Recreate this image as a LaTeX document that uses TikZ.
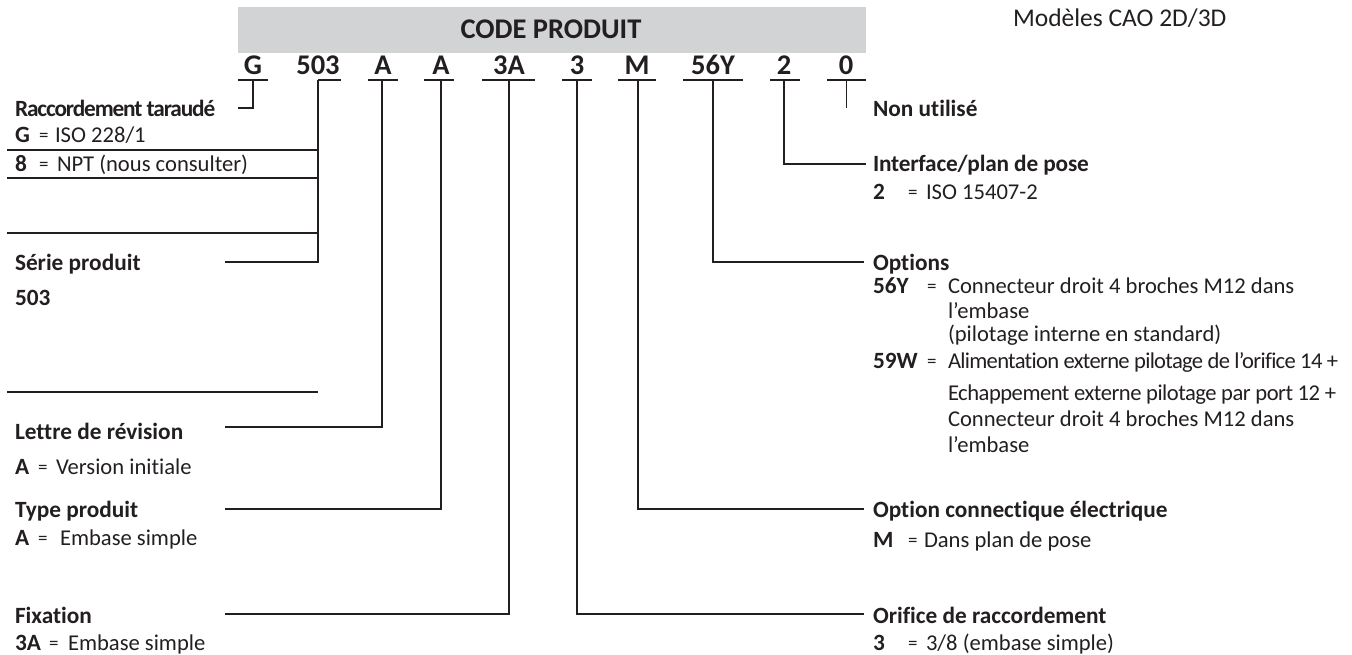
\documentclass[tikz,border=0pt]{standalone}
\usepackage{fontspec}
\setmainfont[Ligatures=NoCommon]{Carlito}
\definecolor{ink}{HTML}{231F20}
\definecolor{band}{HTML}{D1D3D4}
\tikzset{
  txt/.style={anchor=base west,inner sep=0pt,outer sep=0pt,text=ink,font=\fontsize{22.6}{24}\selectfont},
  hd/.style={txt,font=\fontsize{23.3}{25}\selectfont\bfseries},
  eqs/.style={txt,font=\fontsize{19}{20}\selectfont},
  code/.style={anchor=base,inner sep=0pt,outer sep=0pt,text=ink,font=\fontsize{28.5}{30}\selectfont\bfseries},
  bar/.style={draw=ink,line width=2pt},
  leader/.style={draw=ink,line width=1.5pt,line join=miter},
  heavy/.style={draw=ink,line width=2pt},
}
\newcommand\tightset[1]{\addfontfeature{LetterSpace=#1}}
\newcommand\codebar[6]{% name, text, x text, bar left, bar right, leader x
  \node[code] (c#1) at (#3,75) {#2};
  \coordinate (l#1) at (#4,80); \coordinate (r#1) at (#5,80); \coordinate (b#1) at (#6,80);
  \draw[bar] (l#1) -- (r#1);
}
\newcommand\eqline[7]{% name, x, y, key, x eq, x text, text
  \node[txt,font=\fontsize{23.3}{25}\selectfont\bfseries] (#1k) at (#2,#3) {#4};
  \node[eqs] (#1e) at (#5,#3-1) {=};
  \node[txt] (#1t) at (#6,#3) {#7};
}
\begin{document}
\begin{tikzpicture}[x=1pt,y=-1pt]
\useasboundingbox (0,0) rectangle (1352,655);
\fill[band] (238,7) rectangle (866,53);
\node[code] (title) at (551,39) {CODE PRODUIT};
\node[txt,font=\fontsize{25.5}{27}\selectfont] (cao) at (1013,27) {Modèles CAO 2D/3D};

\codebar{G}{G}{253}{238}{268}{253}
\codebar{S}{503}{318}{318}{341}{318}
\codebar{R}{A}{383}{368}{398}{382}
\codebar{T}{A}{441}{424}{454}{441}
\codebar{F}{3A}{509}{482}{535}{509}
\codebar{O}{3}{577}{562}{592}{577}
\codebar{M}{M}{637}{618}{656}{638}
\codebar{Y}{56Y}{713}{683}{743}{713}
\codebar{I}{2}{784}{770}{800}{784}
\codebar{N}{0}{846}{827}{866}{846}

% left column texts
\node[hd] (hG) at (15,117) {\tightset{-4.8}Raccordement taraudé};
\eqline{g}{15}{143}{G}{39}{55}{ISO 228/1}
\eqline{p}{15}{172}{8}{39}{57}{NPT (nous consulter)}
\node[hd] (hS) at (15,270) {Série produit};
\node[hd] (v503) at (15,305) {503};
\node[hd] (hR) at (15,439) {Lettre de révision};
\eqline{a}{15}{474}{A}{38}{56}{Version initiale}
\node[hd] (hT) at (15,517) {Type produit};
\eqline{e}{15}{545}{A}{38}{60}{Embase simple}
\node[hd] (hF) at (15,623) {Fixation};
\eqline{f}{15}{650}{3A}{49}{68}{Embase simple}

% right column texts
\node[hd] (hN) at (873,117) {Non utilisé};
\node[hd] (hI) at (873,172) {\tightset{-0.8}Interface/plan de pose};
\eqline{i}{873}{200}{2}{908}{926}{ISO 15407-2}
\node[hd] (hY) at (873,270) {Options};
\eqline{y}{873}{293}{56Y}{927}{948}{Connecteur droit 4 broches M12 dans}
\node[txt] (y2) at (948,318) {l’embase};
\node[txt] (y3) at (948,341) {(pilotage interne en standard)};
\eqline{w}{873}{368}{59W}{927}{948}{\tightset{-3.1}Alimentation externe pilotage de l'orifice 14 +}
\node[txt] (w2) at (948,400) {\tightset{-2.2}Echappement externe pilotage par port 12 +};
\node[txt] (w3) at (948,426) {Connecteur droit 4 broches M12 dans};
\node[txt] (w4) at (948,452) {l’embase};
\node[hd] (hM) at (873,517) {Option connectique électrique};
\eqline{m}{873}{547}{M}{908}{924}{Dans plan de pose}
\node[hd] (hO) at (873,623) {Orifice de raccordement};
\eqline{o}{873}{650}{3}{908}{926}{3/8 (embase simple)}

% free ends
\coordinate (eG) at (238,108);
\coordinate (eS) at (225,262);
\coordinate (eR) at (225,427);
\coordinate (eT) at (225,509);
\coordinate (eF) at (225,614);
\coordinate (eO) at (864,614);
\coordinate (eM) at (864,509);
\coordinate (eY) at (864,262);
\coordinate (eI) at (866,164);
\coordinate (eN) at (846,108);

\draw[leader] (bG) |- (eG);
\draw[leader] (bS) |- (eS);
\draw[leader] (bR) |- (eR);
\draw[leader] (bT) |- (eT);
\draw[leader] (bF) |- (eF);
\draw[leader] (bO) |- (eO);
\draw[leader] (bM) |- (eM);
\draw[leader] (bY) |- (eY);
\draw[leader] (bI) |- (eI);
\draw[draw=ink,line width=1pt] (bN) -- (eN);

% stray horizontal rules of the left column
\coordinate (s1) at (7,150);  \coordinate (s1r) at (318,150);
\coordinate (s2) at (7,178);  \coordinate (s2r) at (318,178);
\coordinate (s3) at (7,233);  \coordinate (s3r) at (318,233);
\coordinate (s4) at (7,392);  \coordinate (s4r) at (318,392);
\draw[heavy] (s1) -- (s1r);
\draw[heavy] (s2) -- (s2r);
\draw[heavy] (s3) -- (s3r);
\draw[heavy] (s4) -- (s4r);
\end{tikzpicture}
\end{document}
